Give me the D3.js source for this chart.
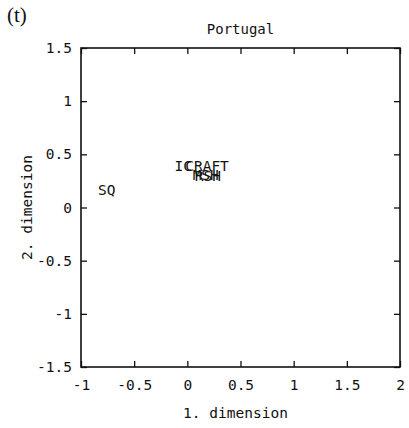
<!DOCTYPE html>
<html>
<head>
<meta charset="utf-8">
<script src="https://cdn.jsdelivr.net/npm/d3@7"></script>
<style>
  body { margin: 0; background: #fff; }
  text { font-family: "DejaVu Sans Mono", "Liberation Mono", monospace; fill: #111; }
  .axis path { display: none; }
  .axis line { stroke: #111; stroke-width: 1.3; }
</style>
</head>
<body>
<div id="chart"></div>
<script>
var width = 409,
    height = 428;

var margin = {left: 81, right: 9, top: 48, bottom: 61};

var labels = ["SQ", "IC", "CRAFT", "MSH", "RSH"],
    dim1 = [-0.84, -0.12, -0.02, 0.05, 0.07],
    dim2 = [0.165, 0.39, 0.39, 0.31, 0.295];

var xTicks = [-1, -0.5, 0, 0.5, 1, 1.5, 2],
    yTicks = [-1.5, -1, -0.5, 0, 0.5, 1, 1.5];

var x = d3.scaleLinear()
    .domain([-1, 2])
    .range([margin.left, width - margin.right]);

var y = d3.scaleLinear()
    .domain([-1.5, 1.5])
    .range([height - margin.bottom, margin.top]);

var svg = d3.select("#chart").append("svg")
    .attr("width", width)
    .attr("height", height);

var plain = function(d) { return String(d); };

// inward ticks on all four sides, gnuplot style
svg.append("g")
    .attr("class", "axis")
    .attr("transform", "translate(0," + y.range()[0] + ")")
    .call(d3.axisBottom(x).tickValues(xTicks).tickSizeInner(-6).tickSizeOuter(0).tickPadding(13).tickFormat(plain))
    .selectAll("text").style("font-size", "14.5px");

svg.append("g")
    .attr("class", "axis")
    .attr("transform", "translate(0," + y.range()[1] + ")")
    .call(d3.axisTop(x).tickValues(xTicks).tickSizeInner(-6).tickSizeOuter(0).tickFormat(""));

svg.append("g")
    .attr("class", "axis")
    .attr("transform", "translate(" + x.range()[0] + ",0)")
    .call(d3.axisLeft(y).tickValues(yTicks).tickSizeInner(-6).tickSizeOuter(0).tickPadding(9).tickFormat(plain))
    .selectAll("text").style("font-size", "14.5px");

svg.append("g")
    .attr("class", "axis")
    .attr("transform", "translate(" + x.range()[1] + ",0)")
    .call(d3.axisRight(y).tickValues(yTicks).tickSizeInner(-6).tickSizeOuter(0).tickFormat(""));

// frame
svg.append("rect")
    .attr("x", x.range()[0])
    .attr("y", y.range()[1])
    .attr("width", x.range()[1] - x.range()[0])
    .attr("height", y.range()[0] - y.range()[1])
    .attr("fill", "none")
    .attr("stroke", "#111")
    .attr("stroke-width", 1.6);

// point labels
svg.selectAll(".pt")
    .data(labels)
  .enter().append("text")
    .attr("class", "pt")
    .attr("x", function(d, i) { return x(dim1[i]); })
    .attr("y", function(d, i) { return y(dim2[i]); })
    .attr("dy", "0.35em")
    .style("font-size", "14.5px")
    .text(function(d) { return d; });

// titles
svg.append("text")
    .attr("x", (x.range()[0] + x.range()[1]) / 2)
    .attr("y", 29)
    .attr("text-anchor", "middle")
    .attr("dy", "0.35em")
    .style("font-size", "14px")
    .text("Portugal");

svg.append("text")
    .attr("x", (x.range()[0] + x.range()[1]) / 2 - 5)
    .attr("y", 413)
    .attr("text-anchor", "middle")
    .attr("dy", "0.35em")
    .style("font-size", "14.5px")
    .text("1. dimension");

svg.append("text")
    .attr("transform", "translate(27," + (y.range()[0] + y.range()[1]) / 2 + ") rotate(-90)")
    .attr("text-anchor", "middle")
    .attr("dy", "0.35em")
    .style("font-size", "14.5px")
    .text("2. dimension");

svg.append("text")
    .attr("x", 7)
    .attr("y", 22)
    .style("font-family", "'Liberation Serif', 'DejaVu Serif', serif")
    .style("font-size", "21px")
    .text("(t)");
</script>
</body>
</html>
